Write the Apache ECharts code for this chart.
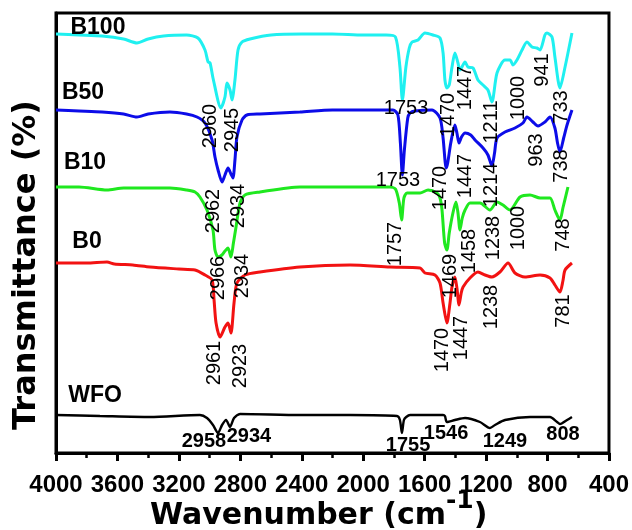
<!DOCTYPE html>
<html>
<head>
<meta charset="utf-8">
<title>FTIR spectra</title>
<script src="https://cdn.jsdelivr.net/npm/echarts@6.0.0/dist/echarts.min.js"></script>
<style>
  html, body { margin: 0; padding: 0; background: #fff; }
  #chart { width: 632px; height: 530px; }
</style>
</head>
<body>
<div id="chart"></div>
<script>
// Wavenumber (cm-1) / stacked transmittance (arbitrary offset units)
const specB100 = [
  [4000,419],[3850,418],[3700,417],[3560,414],[3473,410],[3400,414],[3300,417],[3150,418],
  [3076,415],[3030,403],[3010,391],[2997,390],[2978,375],[2926,345],[2900,356],[2887,370],
  [2867,363],[2854,353],[2835,373],[2815,403],[2789,411],[2737,414],[2600,418],[2400,419],
  [2200,419],[2000,418],[1850,418],[1790,416],[1761,386],[1745,353],[1722,386],[1700,405],
  [1682,411],[1643,413],[1598,420],[1546,418],[1500,415],[1480,400],[1468,373],[1455,365],
  [1440,368],[1422,386],[1403,400],[1383,390],[1370,383],[1337,391],[1318,386],[1285,385],
  [1253,373],[1220,368],[1188,363],[1162,351],[1129,380],[1077,393],[1044,393],[1025,388],
  [999,393],[966,403],[934,411],[901,406],[869,405],[849,403],[817,418],[804,420],[771,416],
  [752,396],[719,365],[686,386],[641,420]
];
const specB50 = [
  [4000,343],[3850,342],[3700,341],[3560,339],[3473,336],[3400,339],[3258,341],[3150,339],
  [3082,336],[3030,330],[2984,313],[2965,296],[2945,283],[2919,271],[2900,278],[2880,285],
  [2861,279],[2848,275],[2835,293],[2822,316],[2789,333],[2757,338],[2672,339],[2412,341],
  [2200,343],[2000,343],[1806,343],[1774,338],[1758,310],[1745,278],[1732,303],[1710,335],
  [1695,340],[1663,342],[1552,343],[1500,335],[1480,315],[1460,285],[1450,290],[1430,310],
  [1403,328],[1390,320],[1376,310],[1360,316],[1337,320],[1300,318],[1272,313],[1220,305],
  [1188,298],[1162,287],[1145,300],[1129,315],[1077,321],[1012,325],[960,330],[934,336],
  [895,331],[862,327],[817,331],[784,336],[752,325],[735,310],[719,301],[695,315],[673,328],
  [641,343]
];
const specB10 = [
  [4000,266],[3850,266],[3668,263],[3560,265],[3400,265],[3258,265],[3150,263],[3095,261],
  [3063,256],[3017,243],[2978,223],[2965,203],[2945,196],[2920,198],[2900,202],[2880,205],
  [2861,196],[2845,210],[2828,226],[2802,250],[2770,258],[2672,261],[2412,266],[2086,266],
  [1826,266],[1790,264],[1765,250],[1750,233],[1735,255],[1715,260],[1630,260],[1578,263],
  [1520,260],[1500,255],[1487,243],[1470,210],[1455,203],[1440,220],[1416,240],[1396,251],
  [1383,240],[1370,223],[1355,235],[1337,243],[1305,250],[1240,250],[1175,243],[1129,251],
  [1090,248],[1044,243],[979,256],[914,258],[849,255],[784,255],[752,243],[719,233],
  [700,245],[667,266]
];
const specB0 = [
  [4000,190],[3800,190],[3668,191],[3620,189],[3500,188],[3388,186],[3200,184],[3095,183],
  [3030,178],[2984,173],[2971,153],[2958,130],[2932,116],[2900,126],[2880,130],[2861,120],
  [2841,150],[2822,170],[2770,178],[2672,181],[2412,186],[2086,188],[1826,186],[1630,185],
  [1598,180],[1533,178],[1500,170],[1480,150],[1455,130],[1435,150],[1422,166],[1403,176],
  [1390,165],[1376,148],[1362,160],[1350,166],[1305,175],[1253,181],[1207,178],[1162,176],
  [1110,181],[1057,190],[1012,180],[947,176],[849,178],[784,175],[752,168],[719,161],
  [700,172],[686,183],[641,190]
];
const specWFO = [
  [4000,38],[3714,37],[3388,36],[3063,38],[3017,35],[2978,28],[2945,20],[2919,28],[2893,33],
  [2867,26],[2841,35],[2802,39],[2412,38],[2086,38],[1780,37],[1761,33],[1748,20],[1735,33],
  [1720,36],[1695,38],[1480,38],[1468,37],[1455,31],[1403,33],[1337,35],[1240,31],[1175,25],
  [1142,28],[1077,33],[914,36],[784,36],[738,31],[719,29],[673,33],[641,36]
];

// sample names: [text, wavenumber, level]
const sampleTags = [
  ['B100', 3727, 425], ['B50', 3824, 360], ['B10', 3811, 290], ['B0', 3798, 211], ['WFO', 3746, 57]
];
// band assignments: [text, wavenumber, level, rotation]
const bandTags = [
  ['2960',2997,327,90], ['2945',2854,323,90], ['1753',1721,345,0], ['1470',1448,338,90],
  ['1447',1331,365,90], ['1211',1168,331,90], ['1000',992,355,90], ['941',830,383,90],
  ['733',706,346,90], ['963',869,303,90], ['738',706,287,90], ['1214',1168,268,90],
  ['1447',1331,277,90], ['1470',1500,265,90], ['1753',1774,273,0], ['1757',1787,209,90],
  ['1469',1435,177,90], ['1458',1311,202,90], ['1238',1149,215,90], ['1000',986,225,90],
  ['748',699,218,90], ['2962',2978,242,90], ['2934',2809,247,90], ['2966',2945,175,90],
  ['2934',2783,177,90], ['1470',1487,103,90], ['1447',1357,115,90], ['1238',1168,146,90],
  ['781',699,142,90], ['2961',2965,90,90], ['2923',2796,87,90]
];
// oil bands, printed in bold: [text, wavenumber, level]
const oilTags = [
  ['2958',3037,12], ['2934',2744,17], ['1755',1708,8], ['1546',1461,20], ['1249',1077,12], ['808',699,19]
];

const xTicks = { min: 400, max: 4000, step: 400 };

const chart = echarts.init(document.getElementById('chart'), null, { renderer: 'canvas' });

function lineSeries(name, data, color, width) {
  return {
    name, type: 'line', data, showSymbol: false, smooth: 0.25,
    lineStyle: { color, width }, silent: true, z: 3
  };
}

function tagSeries(items, fontSize, fontWeight) {
  return {
    type: 'scatter', symbolSize: 0, silent: true, z: 5,
    itemStyle: { opacity: 1 },
    data: items.map(t => ({
      value: [t[1], t[2]],
      label: {
        show: true, formatter: t[0], position: 'inside', rotate: t[3] || 0,
        align: 'center', verticalAlign: 'middle', opacity: 1,
        textBorderWidth: 0,
        fontFamily: 'Liberation Sans, Arial, sans-serif', fontSize, fontWeight, color: '#000'
      }
    }))
  };
}

const option = {
  animation: false,
  backgroundColor: '#fff',
  grid: { left: 56, right: 22, top: 13, bottom: 77, show: true, borderColor: '#000', borderWidth: 3 },
  xAxis: {
    type: 'value', inverse: true, min: xTicks.min, max: xTicks.max, interval: xTicks.step,
    axisLine: { show: true, onZero: false, lineStyle: { color: '#000', width: 3 } },
    axisTick: { show: true, inside: false, length: 8, lineStyle: { color: '#000', width: 3 } },
    minorTick: { show: true, splitNumber: 2, length: 5, lineStyle: { color: '#000', width: 2.5 } },
    splitLine: { show: false },
    axisLabel: {
      margin: 20, color: '#000', fontFamily: 'Liberation Sans, Arial, sans-serif',
      fontWeight: 'bold', fontSize: 24, hideOverlap: false,
      formatter: v => String(v)
    }
  },
  yAxis: {
    type: 'value', min: 0, max: 440,
    axisLine: { show: true, lineStyle: { color: '#000', width: 3 } },
    axisTick: { show: false }, axisLabel: { show: false }, splitLine: { show: false }
  },
  series: [
    lineSeries('B100', specB100, '#1ff0f0', 3),
    lineSeries('B50', specB50, '#0c0ce8', 3),
    lineSeries('B10', specB10, '#1fe81f', 3),
    lineSeries('B0', specB0, '#f21212', 3),
    lineSeries('WFO', specWFO, '#000000', 2.4),
    tagSeries(sampleTags, 23, 'bold'),
    tagSeries(bandTags, 20, 'normal'),
    tagSeries(oilTags, 20, 'bold')
  ],
  graphic: [
    {
      type: 'text', x: 27, y: 265, rotation: Math.PI / 2, silent: true,
      style: {
        text: 'Transmittance (%)', fill: '#000', align: 'center', verticalAlign: 'middle',
        fontFamily: 'DejaVu Sans', fontWeight: 'bold', fontSize: 32
      }
    },
    {
      type: 'text', x: 150, y: 489, silent: true,
      style: {
        text: '{a|Wavenumber (cm}{s|-1}{a|)}', align: 'left', verticalAlign: 'top', fill: '#000',
        rich: {
          a: { fontFamily: 'DejaVu Sans', fontWeight: 'bold', fontSize: 30, lineHeight: 42, verticalAlign: 'bottom', fill: '#000' },
          s: { fontFamily: 'DejaVu Sans', fontWeight: 'bold', fontSize: 25, lineHeight: 18, verticalAlign: 'top', fill: '#000' }
        }
      }
    }
  ]
};

chart.setOption(option);
</script>
</body>
</html>
